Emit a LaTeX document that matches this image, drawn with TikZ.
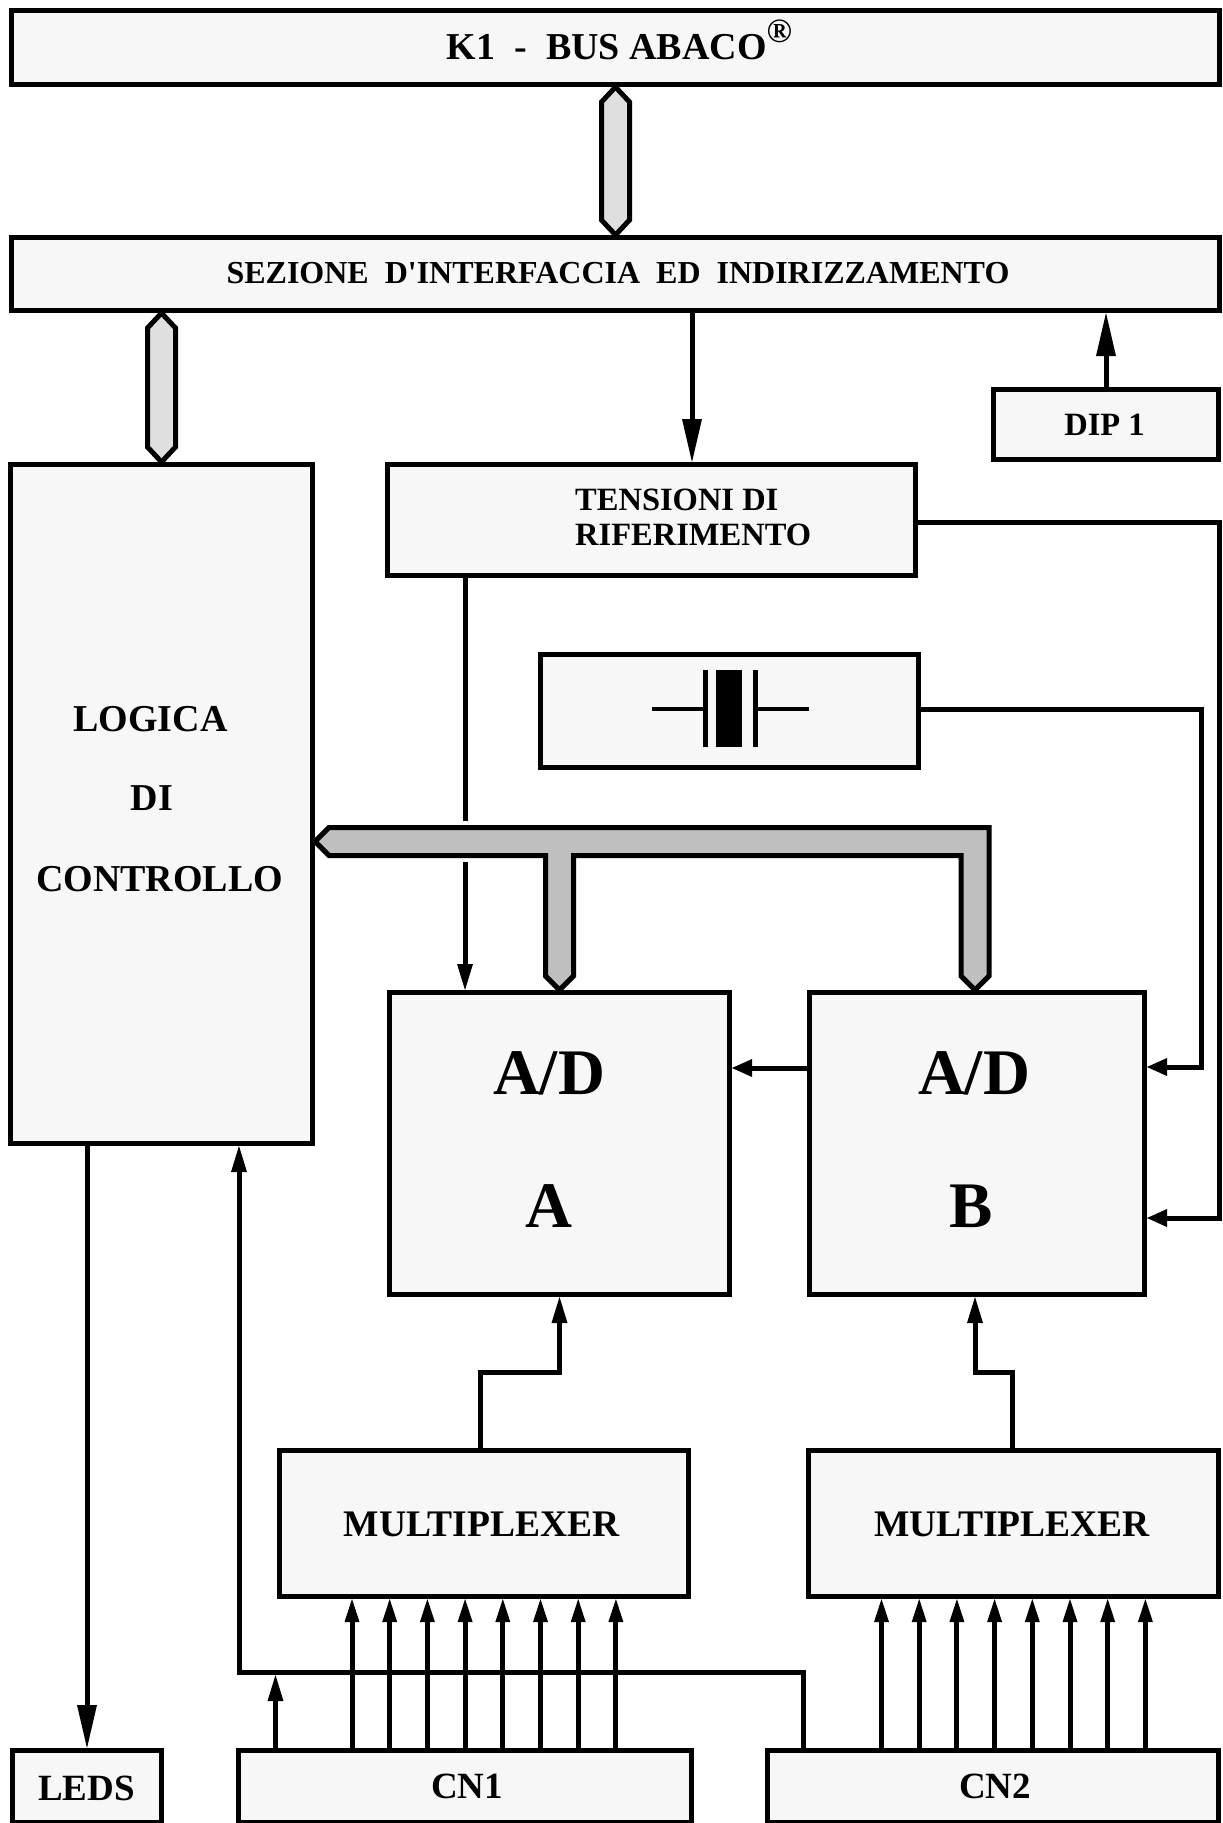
\documentclass[tikz,border=0pt]{standalone}
\usepackage{fontspec}
\newfontfamily\lib{Liberation Serif}
\usetikzlibrary{arrows.meta,calc}
\newcommand\fsz[1]{\lib\bfseries\fontsize{#1}{#1}\selectfont}
\definecolor{boxfill}{HTML}{F7F7F7}
\definecolor{busl}{HTML}{DFDFDF}
\definecolor{busd}{HTML}{BFBFBF}
\tikzset{
  BigT/.tip={Triangle[length=43pt,width=20pt,line width=0pt]},
  MedT/.tip={Triangle[length=26pt,width=16pt,line width=0pt]},
  SmT/.tip={Triangle[length=23pt,width=15pt,line width=0pt]},
  ShT/.tip={Triangle[length=20pt,width=18pt,line width=0pt]},
}
\begin{document}
\begin{tikzpicture}[x=1pt,y=-1pt,
  blk/.style={draw=black, fill=boxfill, line width=5pt, rectangle, inner sep=0pt},
  conn/.style={draw=black, line width=5pt, line join=miter},
  bus/.style={draw=black, line width=5pt, line join=miter, fill=busl},
  bigbus/.style={draw=black, line width=5pt, line join=miter, fill=busd},
  txt/.style={inner sep=0pt, anchor=base},
  txtl/.style={inner sep=0pt, anchor=base west},
  lead/.style={draw=black, line width=4.5pt}
]
\useasboundingbox (0,0) rectangle (1223,1823);

% ---- boxes
\node[blk, minimum width=1208pt, minimum height=74pt] (K1) at (615.5,47.5) {};
\node[blk, minimum width=1208pt, minimum height=73pt] (SEZ) at (615.5,274) {};
\node[blk, minimum width=302pt, minimum height=679pt] (LOG) at (161.5,804) {};
\node[blk, minimum width=528pt, minimum height=111pt] (TEN) at (651.5,520) {};
\node[blk, minimum width=225pt, minimum height=70pt] (DIP) at (1106,424.5) {};
\node[blk, minimum width=378pt, minimum height=113pt] (XTAL) at (729.5,711) {};
\node[blk, minimum width=340pt, minimum height=302pt] (ADA) at (559.5,1143.5) {};
\node[blk, minimum width=335pt, minimum height=302pt] (ADB) at (977,1143.5) {};
\node[blk, minimum width=409pt, minimum height=146pt] (MUXA) at (484,1523.5) {};
\node[blk, minimum width=410pt, minimum height=146pt] (MUXB) at (1013.5,1523.5) {};
\node[blk, minimum width=149pt, minimum height=71.5pt] (LEDS) at (87,1786.25) {};
\node[blk, minimum width=453pt, minimum height=71.5pt] (CN1) at (465,1786.25) {};
\node[blk, minimum width=451pt, minimum height=71.5pt] (CN2) at (993,1786.25) {};

% ---- texts
\node[txt, font=\fsz{38}] (tK1) at (619.5,59) {K1\ \ -\ \ BUS ABACO\raisebox{17pt}{\fontsize{34}{34}\selectfont ®}};
\node[txt, font=\fsz{32}] (tSEZ) at (618,283.3) {SEZIONE\ \ D'INTERFACCIA\ \ ED\ \ INDIRIZZAMENTO};
\node[txt, font=\fsz{32.5}] (tDIP) at (1104.5,435) {DIP 1};
\node[txtl, font=\fsz{32.5}] (tTEN1) at (575,510) {TENSIONI DI};
\node[txtl, font=\fsz{32.5}] (tTEN2) at (575,545) {RIFERIMENTO};
\node[txt, font=\fsz{38}] (tLOG1) at (150.5,731) {LOGICA};
\node[txt, font=\fsz{38}] (tLOG2) at (152,810) {DI};
\node[txt, font=\fsz{38}] (tLOG3) at (159.7,891) {CONTROLLO};
\node[txt, font=\fsz{65}] (tADA1) at (549,1094) {A/D};
\node[txt, font=\fsz{65}] (tADA2) at (548.5,1227) {A};
\node[txt, font=\fsz{65}] (tADB1) at (974,1094) {A/D};
\node[txt, font=\fsz{65}] (tADB2) at (971,1227) {B};
\node[txt, font=\fsz{37.5}] (tMUXA) at (481.7,1536.7) {MULTIPLEXER};
\node[txt, font=\fsz{37.5}] (tMUXB) at (1012,1536.7) {MULTIPLEXER};
\node[txt, font=\fsz{37}] (tLEDS) at (86.6,1800) {LEDS};
\node[txt, font=\fsz{37}] (tCN1) at (467,1798) {CN1};
\node[txt, font=\fsz{37}] (tCN2) at (995,1798) {CN2};

% ---- crystal symbol
\draw[lead] (651.5,709) -- (704,709);
\fill (702.5,670) rectangle (707.5,747);
\fill (716,670) rectangle (742,747);
\fill (753,670) rectangle (758,747);
\draw[lead] (756,709) -- (809,709);

% ---- buses
\draw[bus] (K1.south) -- ++(14,15) -- ($(SEZ.north)+(14,-15)$) -- (SEZ.north)
  -- ($(SEZ.north)+(-14,-15)$) -- ($(K1.south)+(-14,15)$) -- cycle;
\coordinate (lbt) at (LOG.north |- SEZ.south);
\draw[bus] (lbt) -- ++(14,15) -- ($(LOG.north)+(14,-15)$) -- (LOG.north)
  -- ($(LOG.north)+(-14,-15)$) -- ($(lbt)+(-14,15)$) -- cycle;
\coordinate (T) at ($(LOG.east)+(0,37.5)$);
\coordinate (Atip) at (ADA.north);
\coordinate (Btip) at ($(ADB.north)+(-2,0)$);
\draw[bigbus] (T) -- ++(14,-14) -- ($(Btip |- T)+(14,-14)$) -- ($(Btip)+(14,-14)$)
  -- (Btip) -- ($(Btip)+(-14,-14)$) -- ($(Btip |- T)+(-14,14)$)
  -- ($(Atip |- T)+(14,14)$) -- ($(Atip)+(14,-14)$) -- (Atip)
  -- ($(Atip)+(-14,-14)$) -- ($(Atip |- T)+(-14,14)$) -- ($(T)+(14,14)$) -- cycle;

% ---- connectors
\coordinate (tenin) at (692,0);
\draw[conn,-{BigT}] (SEZ.south -| tenin) -- (TEN.north -| tenin);
\draw[conn,-{BigT}] (DIP.north) -- (DIP.north |- SEZ.south);
\coordinate (ra) at (1219.5,522);
\coordinate (rb) at (1219.5,1218);
\draw[conn,-{ShT}] (TEN.east |- ra) -- (ra) -- (rb) -- (ADB.east |- rb);
\coordinate (xa) at (1201,709);
\coordinate (xb) at (1201,1067);
\draw[conn,-{ShT}] (XTAL.east |- xa) -- (xa) -- (xb) -- (ADB.east |- xb);
\coordinate (ab) at (760,1068);
\draw[conn,-{ShT}] (ADB.west |- ab) -- (ADA.east |- ab);
\coordinate (tv1) at (465,821);
\coordinate (tv2) at (465,862);
\draw[conn] (TEN.south -| tv1) -- (tv1);
\draw[conn,-{MedT}] (tv2) -- (ADA.north -| tv2);
\coordinate (ma) at (480,1372);
\draw[conn,-{MedT}] (MUXA.north -| ma) -- (ma) -| (ADA.south);
\coordinate (mc) at (1012,1372);
\coordinate (bs) at ($(ADB.south)+(-2,0)$);
\draw[conn,-{MedT}] (MUXB.north -| mc) -- (mc) -| (bs);
\draw[conn,-{BigT}] (LOG.south -| LEDS.north) -- (LEDS.north);
\coordinate (ha) at (803,1672.5);
\coordinate (hb) at (239,1672.5);
\draw[conn,-{MedT}] (CN2.north -| ha) -- (ha) -- (hb) -- (LOG.south -| hb);
\coordinate (hc) at (275.5,1675);
\draw[conn,-{MedT}] (CN1.north -| hc) -- (hc);
\foreach \i in {0,...,7}{
  \coordinate (pa\i) at ($(MUXA.south)+(-132+37.7*\i,0)$);
  \draw[conn,-{SmT}] (pa\i |- CN1.north) -- (pa\i);
  \coordinate (pb\i) at ($(MUXB.south)+(-132+37.7*\i,0)$);
  \draw[conn,-{SmT}] (pb\i |- CN2.north) -- (pb\i);
}
\end{tikzpicture}
\end{document}
